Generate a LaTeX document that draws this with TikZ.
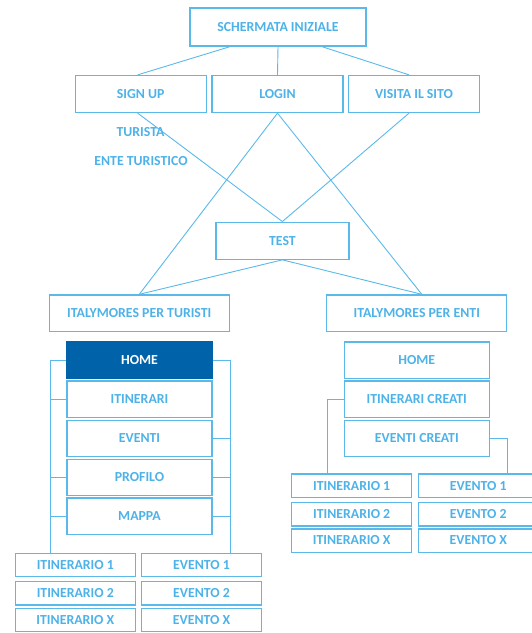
\documentclass[tikz,border=0pt]{standalone}
\usepackage{fontspec}
\setmainfont{Carlito}
\usetikzlibrary{calc}

\definecolor{lineblue}{HTML}{5BB9EA}
\definecolor{textblue}{HTML}{4DB2E8}
\definecolor{homeblue}{HTML}{0062A8}

\begin{document}
\begin{tikzpicture}[x=1pt,y=-1pt,
  box/.style={draw=lineblue,line width=1.3pt,inner sep=0pt,text=textblue,
    font=\fontsize{13.8}{14}\selectfont\bfseries},
  big/.style={box,minimum width=131pt,minimum height=37pt},
  menu/.style={box,minimum width=145pt,minimum height=36.5pt},
  leaf/.style={box,minimum width=120pt,minimum height=23.3pt},
  label/.style={text=textblue,inner sep=0pt,font=\fontsize{13.8}{14}\selectfont\bfseries},
  link/.style={draw=lineblue,line width=0.9pt}]
\useasboundingbox (0,0) rectangle (532,633);
% top levels
\node[big,minimum width=176pt,minimum height=38pt] (start) at (278,27) {SCHERMATA INIZIALE};
\node[big] (signup) at (140.7,94) {SIGN UP};
\node[big] (login) at (277.5,94) {LOGIN};
\node[big] (visita) at (414,94) {VISITA IL SITO};
\node[label] (turista) at (140.5,132) {TURISTA};
\node[label] (ente) at (141,161) {ENTE TURISTICO};
\node[big,minimum width=133pt] (test) at (282.4,240.7) {TEST};
\node[big,minimum width=180pt,minimum height=36.7pt] (turisti) at (139.3,313.3) {ITALYMORES PER TURISTI};
\node[big,minimum width=180pt,minimum height=36.7pt] (enti) at (416.8,313.3) {ITALYMORES PER ENTI};
% app per turisti
\node[menu,fill=homeblue,draw=homeblue,text=white] (thome) at (139.5,360.3) {HOME};
\node[menu] (titin) at (139.5,399.2) {ITINERARI};
\node[menu] (tevent) at (139.5,438.5) {EVENTI};
\node[menu] (tprof) at (139.5,477.5) {PROFILO};
\node[menu] (tmappa) at (139.5,516.2) {MAPPA};
\node[leaf] (ti1) at (75.3,565) {ITINERARIO 1};
\node[leaf] (ti2) at (75.3,593.2) {ITINERARIO 2};
\node[leaf] (tix) at (75.3,620) {ITINERARIO X};
\node[leaf] (te1) at (201.5,565) {EVENTO 1};
\node[leaf] (te2) at (201.5,593.2) {EVENTO 2};
\node[leaf] (tex) at (201.5,620) {EVENTO X};
% app per enti
\node[menu] (ehome) at (416.8,360.3) {HOME};
\node[menu] (eitin) at (416.8,399.2) {ITINERARI CREATI};
\node[menu] (eevent) at (416.8,438.5) {EVENTI CREATI};
\node[leaf] (ei1) at (351.7,485.7) {ITINERARIO 1};
\node[leaf] (ei2) at (351.7,514.2) {ITINERARIO 2};
\node[leaf] (eix) at (351.7,540.5) {ITINERARIO X};
\node[leaf] (ee1) at (478.3,485.7) {EVENTO 1};
\node[leaf] (ee2) at (478.3,514.2) {EVENTO 2};
\node[leaf] (eex) at (478.3,540.5) {EVENTO X};
% bus lines
\coordinate (lbus) at (50,0);
\coordinate (rbus) at (230,0);
\coordinate (ebusl) at (327,0);
\coordinate (ebusr) at (507,0);

\draw[link] ([xshift=-48pt]start.south) -- ([xshift=-3pt]signup.north);
\draw[link] (start.south) -- (login.north);
\draw[link] ([xshift=44pt]start.south) -- ([xshift=-5pt]visita.north);
\draw[link] ([xshift=-3pt]signup.south) -- (test.north);
\draw[link] ([xshift=-5pt]visita.south) -- (test.north);
\draw[link] (login.south) -- (turisti.north);
\draw[link] (login.south) -- ([xshift=5pt]enti.north);
\draw[link] (test.south) -- (turisti.north);
\draw[link] (test.south) -- ([xshift=5pt]enti.north);

\draw[link] (thome.west) -- (thome.west -| lbus) -- (ti1.north -| lbus);
\foreach \n in {titin,tprof,tmappa}
  \draw[link] (\n.west) -- (\n.west -| lbus);
\draw[link] (thome.east) -- (thome.east -| rbus) -- (te1.north -| rbus);
\foreach \n in {tevent,tprof,tmappa}
  \draw[link] (\n.east) -- (\n.east -| rbus);

\draw[link] (eitin.west) -- (eitin.west -| ebusl) -- (ei1.north -| ebusl);
\draw[link] (eevent.east) -- (eevent.east -| ebusr) -- (ee1.north -| ebusr);
\end{tikzpicture}
\end{document}
